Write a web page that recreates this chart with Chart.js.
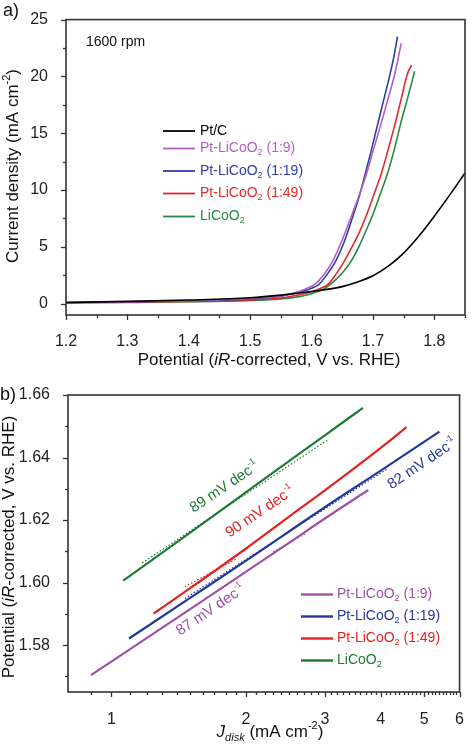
<!DOCTYPE html>
<html>
<head>
<meta charset="utf-8">
<script src="https://cdn.jsdelivr.net/npm/chart.js@4.4.0/dist/chart.umd.min.js"></script>
<style>
  html, body { margin: 0; padding: 0; background: #fff; }
  #wrap { position: relative; width: 474px; height: 746px; }
  .panel { position: absolute; left: 0; width: 474px; }
  #panelA { top: 0; height: 375px; }
  #panelB { top: 375px; height: 371px; }
</style>
</head>
<body>
<div id="wrap">
  <div class="panel" id="panelA"><canvas id="LsvChart"></canvas></div>
  <div class="panel" id="panelB"><canvas id="TafelChart"></canvas></div>
</div>
<script>
// ---------- panel a) polarization curves, 1600 rpm ----------
const ptcV   = [1.20, 1.30, 1.40, 1.50, 1.55, 1.60, 1.65, 1.675, 1.70, 1.725, 1.75, 1.775, 1.80, 1.825, 1.85];
const ptcJ   = [0.10, 0.20, 0.32, 0.52, 0.75, 1.07, 1.50, 1.90, 2.45, 3.30, 4.45, 5.95, 7.70, 9.55, 11.5];

const lc9V   = [1.20, 1.30, 1.40, 1.50, 1.55, 1.575, 1.59, 1.605, 1.62, 1.633, 1.65, 1.667, 1.68, 1.69, 1.70, 1.713, 1.725, 1.736, 1.746];
const lc9J   = [0.10, 0.17, 0.26, 0.45, 0.70, 1.00, 1.30, 1.70, 2.55, 3.60, 5.60, 8.00, 9.90, 11.5, 13.4, 15.8, 18.1, 20.3, 22.9];

const lc19V  = [1.20, 1.30, 1.40, 1.50, 1.55, 1.58, 1.60, 1.612, 1.625, 1.638, 1.653, 1.668, 1.678, 1.686, 1.696, 1.706, 1.717, 1.727, 1.734, 1.740];
const lc19J  = [0.10, 0.16, 0.25, 0.42, 0.66, 1.00, 1.35, 1.70, 2.55, 3.60, 5.40, 7.80, 9.50, 11.1, 13.2, 15.4, 17.8, 20.0, 21.7, 23.5];

const lc49V  = [1.20, 1.30, 1.40, 1.50, 1.55, 1.58, 1.60, 1.615, 1.627, 1.64, 1.653, 1.665, 1.678, 1.691, 1.703, 1.714, 1.725, 1.736, 1.746, 1.756, 1.763];
const lc49J  = [0.08, 0.13, 0.20, 0.33, 0.50, 0.78, 1.05, 1.35, 1.70, 2.60, 3.70, 4.90, 6.30, 8.00, 9.80, 11.5, 13.6, 15.8, 18.0, 20.2, 21.0];

const lcoV   = [1.20, 1.30, 1.40, 1.50, 1.55, 1.58, 1.60, 1.62, 1.635, 1.65, 1.664, 1.677, 1.689, 1.701, 1.713, 1.724, 1.735, 1.745, 1.757, 1.768];
const lcoJ   = [0.06, 0.10, 0.16, 0.28, 0.42, 0.62, 0.88, 1.30, 1.90, 2.70, 3.70, 5.00, 6.45, 8.00, 9.80, 11.5, 13.6, 15.8, 18.2, 20.45];

const namesA  = ['Pt/C', 'Pt-LiCoO_{2} (1:9)', 'Pt-LiCoO_{2} (1:19)', 'Pt-LiCoO_{2} (1:49)', 'LiCoO_{2}'];
const colorsA = ['#000000', '#b35ec0', '#2f3ea6', '#e3292b', '#25893f'];

// ---------- panel b) Tafel plots ----------
const taf9J   = [0.90, 1.0, 1.5, 2.0, 2.5, 3.0, 3.75];
const taf9E   = [1.5704, 1.5747, 1.5915, 1.6035, 1.6128, 1.6205, 1.6296];
const taf19J  = [1.095, 1.5, 2.0, 3.0, 4.0, 5.41];
const taf19E  = [1.5821, 1.5951, 1.6070, 1.6241, 1.6358, 1.6483];
const taf49J  = [1.243, 1.5, 2.0, 2.5, 3.0, 4.0, 4.57];
const taf49E  = [1.5901, 1.5982, 1.6109, 1.6212, 1.6295, 1.6431, 1.6497];
const tafLcoJ = [1.063, 1.5, 2.0, 3.0, 3.65];
const tafLcoE = [1.6006, 1.6160, 1.6289, 1.6471, 1.6559];

// linear fits (dotted)
const fit9J   = [2.30, 2.72];   const fit9E   = [1.6099, 1.6157];
const fit19J  = [1.46, 4.15];   const fit19E  = [1.5949, 1.6365];
const fit49J  = [1.46, 1.91];   const fit49E  = [1.5987, 1.6077];
const fitLcoJ = [1.172, 3.04];  const fitLcoE = [1.6063, 1.6456];

const namesB  = ['Pt-LiCoO_{2} (1:9)', 'Pt-LiCoO_{2} (1:19)', 'Pt-LiCoO_{2} (1:49)', 'LiCoO_{2}'];
const colorsB = ['#a24fa6', '#25399b', '#e52222', '#1d7b35'];
const slopesB = ['87 mV dec^{-1}', '82 mV dec^{-1}', '90 mV dec^{-1}', '89 mV dec^{-1}'];
// where each slope label sits (data coords)
const slopeAtJ = [1.667, 4.95, 2.15, 1.79];
const slopeAtE = [1.5912, 1.6380, 1.6226, 1.6305];

const FONT = '"Liberation Sans", Arial, Helvetica, sans-serif';

function pts(xs, ys) {
  return xs.map((x, i) => ({ x: x, y: ys[i] }));
}

// tiny markup: *italic*  _{sub}  _[italic sub]  ^{sup}
function parseRich(str) {
  const re = /\*([^*]+)\*|_\[([^\]]+)\]|_\{([^}]+)\}|\^\{([^}]+)\}|([^*_^]+)/g;
  const out = [];
  let m;
  while ((m = re.exec(str))) {
    if (m[1]) out.push({ t: m[1], it: true });
    else if (m[2]) out.push({ t: m[2], it: true, sub: true });
    else if (m[3]) out.push({ t: m[3], sub: true });
    else if (m[4]) out.push({ t: m[4], sup: true });
    else out.push({ t: m[5] });
  }
  return out;
}

function drawRich(ctx, str, x, y, size, color, align, angle) {
  const parts = parseRich(str);
  const fontOf = p => (p.it ? 'italic ' : '') + Math.round((p.sub || p.sup) ? size * 0.62 : size) + 'px ' + FONT;
  let w = 0;
  parts.forEach(p => { ctx.font = fontOf(p); p.w = ctx.measureText(p.t).width; w += p.w; });
  ctx.save();
  ctx.translate(x, y);
  if (angle) ctx.rotate(angle * Math.PI / 180);
  ctx.fillStyle = color;
  ctx.textBaseline = 'middle';
  ctx.textAlign = 'left';
  let cx = align === 'center' ? -w / 2 : (align === 'right' ? -w : 0);
  parts.forEach(p => {
    ctx.font = fontOf(p);
    const dy = p.sub ? size * 0.32 : (p.sup ? -size * 0.36 : 0);
    ctx.fillText(p.t, cx, dy);
    cx += p.w;
  });
  ctx.restore();
}

// frame + outward major/minor tick marks
const frameTicks = {
  id: 'frameTicks',
  afterDraw(chart) {
    const c = chart.ctx, a = chart.chartArea;
    c.save();
    c.strokeStyle = '#333';
    c.lineWidth = 1.3;
    Object.values(chart.scales).forEach(s => {
      s.ticks.forEach(t => {
        const len = (t.label !== '' && t.label !== undefined) ? 5 : 3;
        const p = Math.round(s.getPixelForValue(t.value)) + 0.5;
        c.beginPath();
        if (s.isHorizontal()) { c.moveTo(p, a.bottom); c.lineTo(p, a.bottom + len); }
        else { c.moveTo(a.left, p); c.lineTo(a.left - len, p); }
        c.stroke();
      });
    });
    c.lineWidth = 1.6;
    c.strokeRect(a.left, a.top, a.right - a.left, a.bottom - a.top);
    c.restore();
  }
};

function legendPlugin(id, x0, x1, tx, rows, size, lw) {
  return {
    id: id,
    afterDraw(chart) {
      const c = chart.ctx;
      let k = 0;
      chart.data.datasets.forEach(d => {
        if (d.fit) return;
        const y = rows[k++];
        c.save();
        c.strokeStyle = d.borderColor;
        c.lineWidth = lw;
        c.beginPath(); c.moveTo(x0, y); c.lineTo(x1, y); c.stroke();
        c.restore();
        drawRich(c, d.label, tx, y, size, d.borderColor, 'left', 0);
      });
    }
  };
}

function tickFont() { return { size: 16, family: FONT }; }

// ---------- chart a ----------
const lsvSets = [[ptcV, ptcJ], [lc9V, lc9J], [lc19V, lc19J], [lc49V, lc49J], [lcoV, lcoJ]];

new Chart(document.getElementById('LsvChart'), {
  type: 'line',
  data: {
    datasets: lsvSets.map((s, i) => ({
      label: namesA[i],
      data: pts(s[0], s[1]),
      borderColor: colorsA[i],
      borderWidth: 1.6,
      pointRadius: 0,
      cubicInterpolationMode: 'monotone',
      fill: false
    }))
  },
  options: {
    responsive: true,
    maintainAspectRatio: false,
    animation: false,
    layout: { padding: { top: 14, right: 2, left: 0, bottom: 0 } },
    plugins: { legend: { display: false }, tooltip: { enabled: false } },
    scales: {
      x: {
        type: 'linear', min: 1.2, max: 1.85,
        afterBuildTicks: s => {
          const t = [];
          for (let i = 0; i <= 13; i++) t.push({ value: +(1.2 + i * 0.05).toFixed(2) });
          s.ticks = t;
        },
        afterFit: s => { s.height = 60; },
        ticks: {
          autoSkip: false, maxRotation: 0, padding: 9, color: '#222', font: tickFont(),
          callback: v => (Math.round(v * 100) % 10 === 0 ? v.toFixed(1) : '')
        },
        grid: { display: false }, border: { display: false }
      },
      y: {
        type: 'linear', min: -1, max: 25,
        afterBuildTicks: s => {
          const t = [];
          for (let i = 0; i <= 10; i++) t.push({ value: i * 2.5 });
          s.ticks = t;
        },
        afterFit: s => { s.width = 66; },
        ticks: {
          autoSkip: false, padding: 10, color: '#222', font: tickFont(),
          callback: v => (v % 5 === 0 ? String(v) : '')
        },
        grid: { display: false }, border: { display: false }
      }
    }
  },
  plugins: [frameTicks,
    legendPlugin('legendA', 163, 195, 200, [131, 148.5, 171, 193.5, 216.5], 14, 1.8),
    {
      id: 'textA',
      afterDraw(chart) {
        const c = chart.ctx;
        drawRich(c, 'a)', 3, 11, 18, '#111', 'left', 0);
        drawRich(c, '1600 rpm', 86, 42, 14, '#111', 'left', 0);
        drawRich(c, 'Current density (mA cm^{-2})', 13, 166, 17, '#111', 'center', -90);
        drawRich(c, 'Potential (*iR*-corrected, V vs. RHE)', 269, 360, 17, '#111', 'center', 0);
      }
    }]
});

// ---------- chart b ----------
const tafSets = [[taf9J, taf9E], [taf19J, taf19E], [taf49J, taf49E], [tafLcoJ, tafLcoE]];
const fitSets = [[fit9J, fit9E], [fit19J, fit19E], [fit49J, fit49E], [fitLcoJ, fitLcoE]];

const tafDatasets = tafSets.map((s, i) => ({
  label: namesB[i],
  data: pts(s[0], s[1]),
  borderColor: colorsB[i],
  borderWidth: 2.2,
  pointRadius: 0,
  cubicInterpolationMode: 'monotone',
  fill: false
})).concat(fitSets.map((s, i) => ({
  label: namesB[i] + ' fit',
  fit: true,
  data: pts(s[0], s[1]),
  borderColor: colorsB[i],
  borderWidth: 1.2,
  borderDash: [1.5, 2],
  pointRadius: 0,
  fill: false
})));

new Chart(document.getElementById('TafelChart'), {
  type: 'line',
  data: { datasets: tafDatasets },
  options: {
    responsive: true,
    maintainAspectRatio: false,
    animation: false,
    layout: { padding: { top: 20, right: 7, left: 0, bottom: 0 } },
    plugins: { legend: { display: false }, tooltip: { enabled: false } },
    scales: {
      x: {
        type: 'logarithmic', min: 0.8, max: 6,
        afterBuildTicks: s => {
          const t = [];
          for (let k = 9; k <= 60; k++) t.push({ value: k / 10 });
          s.ticks = t;
        },
        afterFit: s => { s.height = 54; },
        ticks: {
          autoSkip: false, maxRotation: 0, padding: 10, color: '#222', font: tickFont(),
          callback: v => (Math.abs(v - Math.round(v)) < 1e-9 ? String(Math.round(v)) : '')
        },
        grid: { display: false }, border: { display: false }
      },
      y: {
        type: 'linear', min: 1.565, max: 1.66,
        afterBuildTicks: s => {
          const t = [];
          for (let k = 157; k <= 166; k++) t.push({ value: k / 100 });
          s.ticks = t;
        },
        afterFit: s => { s.width = 68; },
        ticks: {
          autoSkip: false, padding: 10, color: '#222', font: tickFont(),
          callback: v => (Math.round(v * 100) % 2 === 0 ? v.toFixed(2) : '')
        },
        grid: { display: false }, border: { display: false }
      }
    }
  },
  plugins: [frameTicks,
    legendPlugin('legendB', 301, 333, 337, [219.5, 241.5, 263.5, 285.5], 14, 2.4),
    {
      id: 'textB',
      afterDraw(chart) {
        const c = chart.ctx, sx = chart.scales.x, sy = chart.scales.y;
        slopesB.forEach((t, i) => {
          drawRich(c, t, sx.getPixelForValue(slopeAtJ[i]), sy.getPixelForValue(slopeAtE[i]),
                   15, colorsB[i], 'center', -34);
        });
        drawRich(c, 'b)', 0, 20, 18, '#111', 'left', 0);
        drawRich(c, 'Potential (*iR*-corrected, V vs. RHE)', 9, 172, 17, '#111', 'center', -90);
        drawRich(c, '*J*_[disk] (mA cm^{-2})', 270, 357, 17, '#111', 'center', 0);
      }
    }]
});
</script>
</body>
</html>
